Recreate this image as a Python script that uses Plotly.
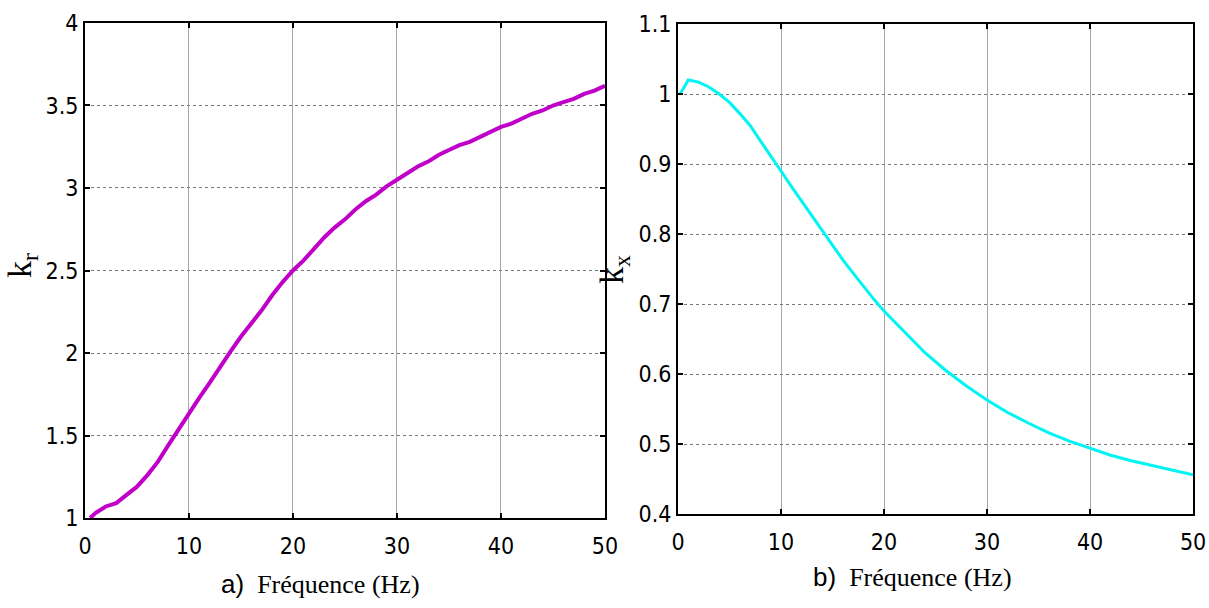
import plotly.graph_objects as go
from plotly.subplots import make_subplots

# Frequency grid (Hz) and coefficient curves
freq_r = [0.5, 1, 2, 3, 4, 5, 6, 7, 8, 9, 10, 11, 12, 13, 14, 15, 16, 17, 18, 19, 20,
          21, 22, 23, 24, 25, 26, 27, 28, 29, 30, 31, 32, 33, 34, 35, 36, 37, 38, 39, 40,
          41, 42, 43, 44, 45, 46, 47, 48, 49, 50]
k_r = [1.00, 1.03, 1.07, 1.09, 1.14, 1.19, 1.26, 1.34, 1.44, 1.54, 1.63, 1.73, 1.82, 1.92, 2.01, 2.10, 2.18, 2.26, 2.35, 2.43, 2.50,
       2.56, 2.63, 2.70, 2.76, 2.81, 2.87, 2.92, 2.96, 3.01, 3.05, 3.09, 3.13, 3.16, 3.20, 3.23, 3.26, 3.28, 3.31, 3.34, 3.37,
       3.39, 3.42, 3.45, 3.47, 3.50, 3.52, 3.54, 3.57, 3.59, 3.62]

freq_x = [0.2, 1, 2, 3, 4, 5, 6, 7, 8, 9, 10, 11, 12, 13, 14, 15, 16, 17, 18, 19, 20,
          22, 24, 26, 28, 30, 32, 34, 36, 38, 40, 42, 44, 46, 48, 50]
k_x = [1.000, 1.020, 1.017, 1.010, 1.000, 0.988, 0.972, 0.955, 0.933, 0.912, 0.890, 0.868, 0.847, 0.825, 0.804, 0.784, 0.763, 0.744, 0.725, 0.707, 0.690,
       0.660, 0.630, 0.605, 0.583, 0.563, 0.545, 0.530, 0.516, 0.504, 0.494, 0.484, 0.476, 0.469, 0.462, 0.456]

x_ticks = [0, 10, 20, 30, 40, 50]
kr_ticks = [1, 1.5, 2, 2.5, 3, 3.5, 4]
kx_ticks = [0.4, 0.5, 0.6, 0.7, 0.8, 0.9, 1.0, 1.1]
kr_labels = ["1", "1.5", "2", "2.5", "3", "3.5", "4"]
kx_labels = ["0.4", "0.5", "0.6", "0.7", "0.8", "0.9", "1", "1.1"]

TICK_FONT = dict(family="DejaVu Sans Condensed, Liberation Sans Narrow, Arial Narrow, Liberation Sans",
                 size=23, color="black")
SERIF = "Liberation Serif, Times New Roman, serif"

fig = make_subplots(rows=1, cols=2)

fig.add_trace(go.Scatter(x=freq_r, y=k_r, mode="lines",
                         line=dict(color="#c000c8", width=4), showlegend=False), row=1, col=1)
fig.add_trace(go.Scatter(x=freq_x, y=k_x, mode="lines",
                         line=dict(color="#00f4f4", width=3), showlegend=False), row=1, col=2)

axis_common = dict(showline=True, linecolor="black", linewidth=2, mirror="ticks",
                   ticks="inside", ticklen=5, tickwidth=2, tickcolor="black",
                   tickfont=TICK_FONT, zeroline=False, automargin=False)

fig.update_xaxes(range=[0, 50], tickvals=x_ticks, showgrid=True, gridcolor="#a8a8a8",
                 gridwidth=1, ticklabelstandoff=6, **axis_common)
fig.update_xaxes(domain=[0.0703, 0.5004], row=1, col=1)
fig.update_xaxes(domain=[0.5608, 0.9868], row=1, col=2)

fig.update_yaxes(showgrid=True, gridcolor="#777777", griddash="dot", gridwidth=1, **axis_common)
fig.update_yaxes(range=[1, 4], tickvals=kr_ticks, ticktext=kr_labels,
                 domain=[0.148, 0.9622], row=1, col=1)
fig.update_yaxes(range=[0.4, 1.1], tickvals=kx_ticks, ticktext=kx_labels,
                 domain=[0.1546, 0.9605], row=1, col=2)

annotations = [
    dict(text="<span style='font-family:Liberation Sans, Arial'>a)</span>  Fréquence (Hz)",
         x=320, y=584, size=26),
    dict(text="<span style='font-family:Liberation Sans, Arial'>b)</span>  Fréquence (Hz)",
         x=912, y=577, size=26),
    dict(text="k<sub>r</sub>", x=22, y=266, textangle=-90, size=34),
    dict(text="k<sub>x</sub>", x=614, y=270, textangle=-90, size=34),
]
for a in annotations:
    fig.add_annotation(text=a["text"], x=a["x"] / 1209, y=1 - a["y"] / 608,
                       xref="paper", yref="paper", showarrow=False,
                       xanchor="center", yanchor="middle",
                       textangle=a.get("textangle", 0),
                       font=dict(family=SERIF, size=a["size"], color="black"))

fig.update_layout(width=1209, height=608, margin=dict(l=0, r=0, t=0, b=0),
                  paper_bgcolor="white", plot_bgcolor="white")

fig.write_html("out.html")
